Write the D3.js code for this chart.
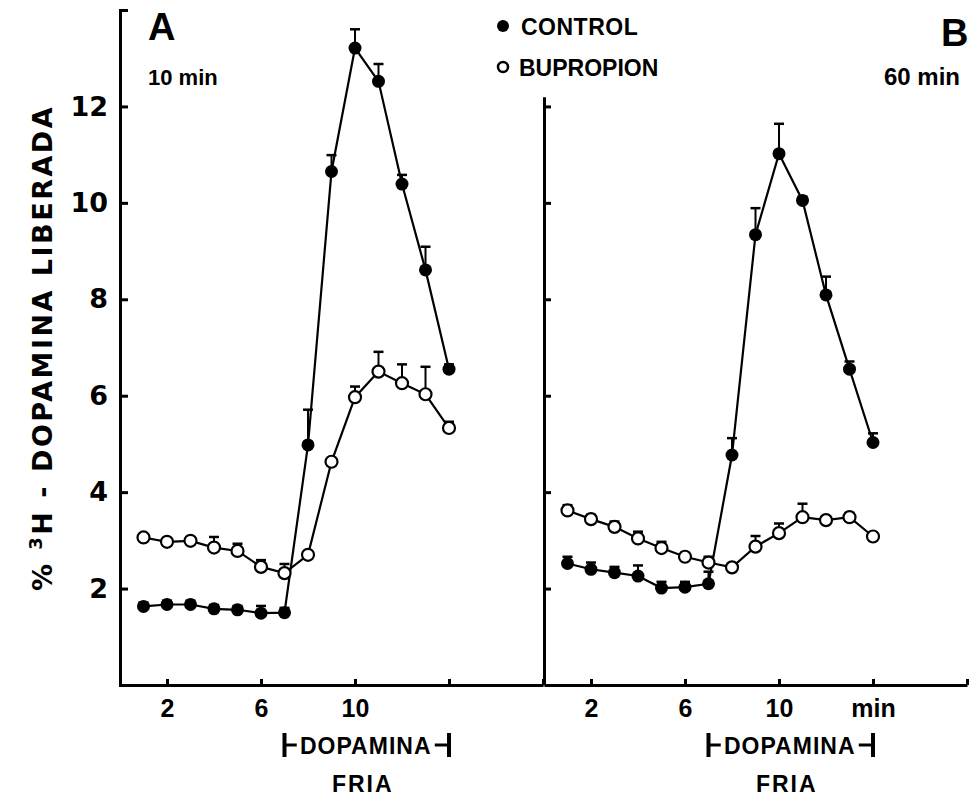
<!DOCTYPE html>
<html>
<head>
<meta charset="utf-8">
<script src="https://cdn.jsdelivr.net/npm/d3@7"></script>
<style>
  body { margin: 0; background: #fff; }
  svg { display: block; }
  text { font-family: "Liberation Sans", Arial, sans-serif; font-weight: bold; fill: #000; }
</style>
</head>
<body>
<svg id="chart" width="972" height="799"></svg>
<script>
// minutes (fractions) - same for both panels
let minutes = [1, 2, 3, 4, 5, 6, 7, 8, 9, 10, 11, 12, 13, 14];

// panel A - 10 min
let controlA      = [1.63, 1.67, 1.67, 1.58, 1.56, 1.49, 1.50, 4.98, 10.65, 13.21, 12.52, 10.39, 8.61, 6.55];
let controlAErr   = [0.08, 0.08, 0.08, 0.08, 0.08, 0.15, 0.10, 0.73, 0.34, 0.39, 0.36, 0.19, 0.48, 0.10];
let bupropionA    = [3.06, 2.97, 2.99, 2.85, 2.78, 2.45, 2.32, 2.70, 4.63, 5.97, 6.50, 6.26, 6.03, 5.33];
let bupropionAErr = [0.06, 0.06, 0.06, 0.22, 0.15, 0.14, 0.19, 0, 0.05, 0.22, 0.41, 0.39, 0.57, 0.13];

// panel B - 60 min
let controlB      = [2.52, 2.40, 2.33, 2.26, 2.01, 2.03, 2.10, 4.77, 9.34, 11.02, 10.05, 8.09, 6.55, 5.03];
let controlBErr   = [0.14, 0.14, 0.12, 0.22, 0.13, 0.11, 0.25, 0.35, 0.55, 0.62, 0.08, 0.38, 0.16, 0.19];
let bupropionB    = [3.62, 3.44, 3.28, 3.04, 2.84, 2.66, 2.54, 2.44, 2.87, 3.15, 3.48, 3.42, 3.48, 3.08];
let bupropionBErr = [0.11, 0.09, 0.11, 0.14, 0.13, 0.08, 0.12, 0, 0.22, 0.20, 0.28, 0, 0.09, 0];

// ticks + labels
let xTicks = [2, 6, 10, 14, 18];
let xTickLabelsA = ["2", "6", "10", "", ""];
let xTickLabelsB = ["2", "6", "10", "min", ""];
let yTicks = [2, 4, 6, 8, 10, 12];
let dopaminaPeriod = [7, 14];   // cold dopamine, min

let svg = d3.select("#chart");

// scales
let y = d3.scaleLinear().domain([0, 14]).range([685, 10]);
let yB = d3.scaleLinear().domain([0, 12.2]).range([y(0), y(12.2)]);
let xA = d3.scaleLinear().domain([0, 18]).range([120, 543]);
let xB = d3.scaleLinear().domain([0, 18]).range([544, 967]);

function axisStyle(g) {
  g.selectAll("path, line").attr("stroke", "#000").attr("stroke-width", 3);
  g.selectAll("text").attr("fill", "#000");
}

// x axes (ticks point up)
function drawX(x, labels) {
  let g = svg.append("g")
    .attr("transform", "translate(0," + y(0) + ")")
    .call(d3.axisBottom(x).tickValues(xTicks)
      .tickSizeInner(-6).tickSizeOuter(0).tickPadding(14)
      .tickFormat((d, i) => labels[i]));
  g.selectAll("text").style("font-family", "Liberation Sans").style("font-weight", "bold").style("font-size", "25px");
  g.call(axisStyle);
}
drawX(xA, xTickLabelsA);
drawX(xB, xTickLabelsB);

// y axis A, labelled, ticks pointing right, curled top
let gyA = svg.append("g")
  .attr("transform", "translate(" + xA(0) + ",0)")
  .call(d3.axisLeft(y).tickValues(yTicks).tickSizeInner(-8).tickSizeOuter(-8).tickPadding(12));
gyA.selectAll("text").style("font-family", "DejaVu Sans").style("font-weight", "bold").style("font-size", "27px");
gyA.call(axisStyle);

// y axis B, no labels
let gyB = svg.append("g")
  .attr("transform", "translate(" + xB(0) + ",0)")
  .call(d3.axisLeft(yB).tickValues(yTicks).tickSizeInner(-7).tickSizeOuter(0).tickFormat(""));
gyB.call(axisStyle);

// y title
let title = svg.append("text")
  .attr("transform", "translate(52,348) rotate(-90)")
  .attr("text-anchor", "middle")
  .style("font-family", "DejaVu Sans")
  .style("font-size", "27px")
  .style("letter-spacing", "2.5px");
title.append("tspan").text("% ");
title.append("tspan").attr("baseline-shift", "super").style("font-size", "18px").text("3");
title.append("tspan").text("H - DOPAMINA LIBERADA");

// draw one panel
function panel(x, control, controlErr, bup, bupErr) {
  let line = d3.line().x(d => x(d.m)).y(d => y(d.v));
  let c = minutes.map((m, i) => ({m: m, v: control[i], e: controlErr[i]}));
  let b = minutes.map((m, i) => ({m: m, v: bup[i], e: bupErr[i]}));

  let g = svg.append("g");
  [c, b].forEach(series => {
    g.append("path").datum(series)
      .attr("d", line).attr("fill", "none")
      .attr("stroke", "#000").attr("stroke-width", 2.2);
  });

  // error bars (upwards only)
  [c, b].forEach(series => {
    let eb = g.selectAll(null).data(series.filter(d => d.e > 0)).enter().append("g");
    eb.append("line")
      .attr("x1", d => x(d.m)).attr("x2", d => x(d.m))
      .attr("y1", d => y(d.v)).attr("y2", d => y(d.v + d.e))
      .attr("stroke", "#000").attr("stroke-width", 2);
    eb.append("line")
      .attr("x1", d => x(d.m) - 5).attr("x2", d => x(d.m) + 5)
      .attr("y1", d => y(d.v + d.e)).attr("y2", d => y(d.v + d.e))
      .attr("stroke", "#000").attr("stroke-width", 2.5);
  });

  g.selectAll(null).data(c).enter().append("circle")
    .attr("cx", d => x(d.m)).attr("cy", d => y(d.v)).attr("r", 6.5)
    .attr("fill", "#000");
  g.selectAll(null).data(b).enter().append("circle")
    .attr("cx", d => x(d.m)).attr("cy", d => y(d.v)).attr("r", 6)
    .attr("fill", "#fff").attr("stroke", "#000").attr("stroke-width", 2.2);

  // |-DOPAMINA-| bracket
  let x0 = x(dopaminaPeriod[0]), x1 = x(dopaminaPeriod[1]), mid = (x0 + x1) / 2;
  let br = svg.append("g");
  [x0, x1].forEach(xx => {
    br.append("line").attr("x1", xx).attr("x2", xx).attr("y1", 733).attr("y2", 757)
      .attr("stroke", "#000").attr("stroke-width", 4);
  });
  br.append("line").attr("x1", x0).attr("x2", mid - 70).attr("y1", 745).attr("y2", 745)
    .attr("stroke", "#000").attr("stroke-width", 3);
  br.append("line").attr("x1", mid + 68).attr("x2", x1).attr("y1", 745).attr("y2", 745)
    .attr("stroke", "#000").attr("stroke-width", 3);
  br.append("text").attr("x", mid - 1).attr("y", 754).attr("text-anchor", "middle")
    .style("font-size", "23px").style("letter-spacing", "1px").text("DOPAMINA");
  br.append("text").attr("x", mid - 4).attr("y", 792).attr("text-anchor", "middle")
    .style("font-size", "23px").style("letter-spacing", "2px").text("FRIA");
}

panel(xA, controlA, controlAErr, bupropionA, bupropionAErr);
panel(xB, controlB, controlBErr, bupropionB, bupropionBErr);

// panel letters + times
svg.append("text").attr("x", 148).attr("y", 40).style("font-size", "38px").text("A");
svg.append("text").attr("x", 148).attr("y", 85).style("font-size", "22px").text("10 min");
svg.append("text").attr("x", 941).attr("y", 46).style("font-size", "38px").text("B");
svg.append("text").attr("x", 884).attr("y", 85).style("font-size", "24px").text("60 min");

// legend
svg.append("circle").attr("cx", 503).attr("cy", 26).attr("r", 6).attr("fill", "#000");
svg.append("text").attr("x", 521).attr("y", 35).style("font-size", "23px").style("letter-spacing", "0.5px").text("CONTROL");
svg.append("circle").attr("cx", 503).attr("cy", 67).attr("r", 5).attr("fill", "#fff")
  .attr("stroke", "#000").attr("stroke-width", 2.5);
svg.append("text").attr("x", 519).attr("y", 76).style("font-size", "23px").text("BUPROPION");
</script>
</body>
</html>
